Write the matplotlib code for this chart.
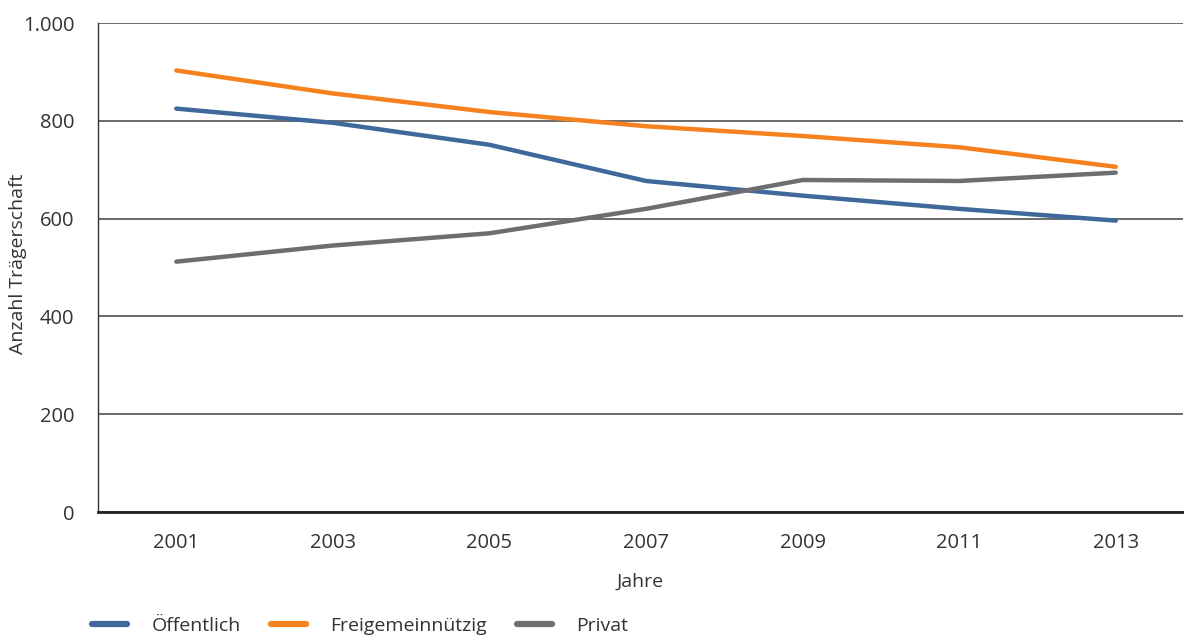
import matplotlib.pyplot as plt
import numpy as np

plt.rcParams['font.family'] = ['Open Sans', 'DejaVu Sans']

jahre = ["2001", "2003", "2005", "2007", "2009", "2011", "2013"]
oeffentlich = [825, 796, 751, 677, 647, 620, 596]
freigemeinnuetzig = [903, 856, 818, 789, 769, 746, 706]
privat = [512, 545, 570, 620, 679, 677, 694]

text_col = "#333333"
x = np.arange(len(jahre))

fig = plt.figure(figsize=(11.84, 6.4), dpi=100)
ax = fig.add_axes([0.0828, 0.2, 0.9164, 0.764])

ax.plot(x, oeffentlich, color="#3F689B", lw=3.2, solid_capstyle="round", label="Öffentlich", zorder=3)
ax.plot(x, freigemeinnuetzig, color="#F5821F", lw=3.2, solid_capstyle="round", label="Freigemeinnützig", zorder=3)
ax.plot(x, privat, color="#6D6E71", lw=3.2, solid_capstyle="round", label="Privat", zorder=3)

ax.set_xlim(-0.5, 6.43)
ax.set_ylim(0, 1000)
ax.set_xticks(x)
ax.set_xticklabels(jahre)
ax.set_yticks([0, 200, 400, 600, 800, 1000])
ax.set_yticklabels(["0", "200", "400", "600", "800", "1.000"])
ax.tick_params(length=0, labelsize=14.5, colors=text_col)
ax.tick_params(axis="y", pad=17)
ax.tick_params(axis="x", pad=15)

ax.grid(axis="y", color="#444444", lw=1.1)
ax.set_axisbelow(True)
for s in ["top", "right"]:
    ax.spines[s].set_visible(False)
ax.spines["left"].set_color("#333333")
ax.spines["left"].set_linewidth(1.0)
ax.spines["bottom"].set_color("#222222")
ax.spines["bottom"].set_linewidth(2.0)

# axis titles placed in figure coordinates
fig.text(640 / 1184, 1 - 582 / 640, "Jahre", fontsize=14, color=text_col, ha="center", va="center")
fig.text(18 / 1184, 1 - 264 / 640, "Anzahl Trägerschaft", fontsize=14, color=text_col,
         rotation=90, ha="center", va="center")

fig.legend(loc="center left", bbox_to_anchor=(92 / 1184, 1 - 626 / 640), ncol=3, frameon=False,
           borderpad=0, borderaxespad=0, fontsize=14, handlelength=1.8, handletextpad=1.25,
           columnspacing=1.55, labelcolor=text_col)
for h in fig.legends[0].get_lines():
    h.set_linewidth(4.5)

fig.savefig("out.png", dpi=100)
